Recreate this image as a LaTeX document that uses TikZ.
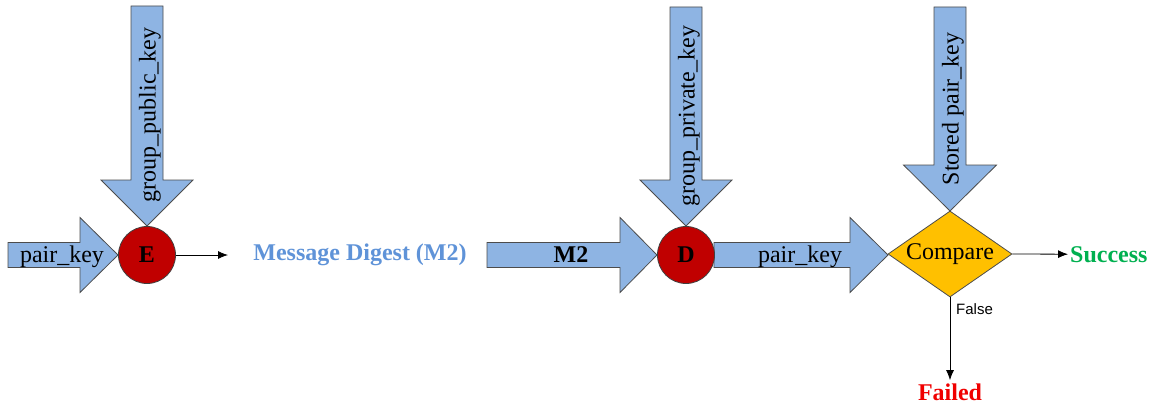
\documentclass[tikz,border=0pt]{standalone}
\usepackage{fontspec}
\setmainfont{Liberation Serif}
\newfontfamily\labelsans{Liberation Sans}
\usetikzlibrary{arrows.meta,shapes.geometric}

\definecolor{keyblue}{HTML}{8EB4E3}
\definecolor{opred}{HTML}{C00000}
\definecolor{cmpgold}{HTML}{FFC000}
\definecolor{digestblue}{HTML}{5F93D8}
\definecolor{okgreen}{HTML}{00B050}
\definecolor{failred}{HTML}{F00000}

% horizontal block arrow: start x, head x, tip x, centre y
\newcommand\hblock[4]{%
  \draw[blockarrow] (#1,#4-12.5) -- (#2,#4-12.5) -- (#2,#4-37.5) -- (#3,#4)
    -- (#2,#4+37.5) -- (#2,#4+12.5) -- (#1,#4+12.5) -- cycle;}
% vertical block arrow: centre x, top y, head y, tip y, shaft half width, head half width
\newcommand\vblock[6]{%
  \draw[blockarrow] (#1-#5,#2) -- (#1+#5,#2) -- (#1+#5,#3) -- (#1+#6,#3) -- (#1,#4)
    -- (#1-#6,#3) -- (#1-#5,#3) -- cycle;}

\begin{document}
\begin{tikzpicture}[x=1pt,y=-1pt,
  blockarrow/.style={draw=black!70, fill=keyblue, line width=0.8pt, line join=miter},
  txt/.style={font=\fontsize{24}{28}\selectfont, inner sep=0pt},
  btxt/.style={font=\fontsize{24}{28}\selectfont\bfseries, inner sep=0pt},
  op/.style={circle, draw=black!75, fill=opred, line width=0.8pt, minimum size=57pt, btxt},
  flow/.style={-{Latex[length=10pt,width=8pt]}, line width=0.8pt},
]
\useasboundingbox (0,0) rectangle (1156,404);

% key inputs as block arrows
\hblock{8}{80}{118}{255}
\vblock{147}{6}{180}{226}{16}{46}
\hblock{487}{620}{657}{255}
\vblock{686}{7}{180}{226}{16}{46}
\hblock{714}{850}{888}{255}
\vblock{950}{7}{165}{211}{16}{46.5}

% operations
\node[op] (E) at (147,255) {E};
\node[op] (D) at (686,255) {D};
\node[diamond, aspect=1.44, draw=black!70, fill=cmpgold, line width=0.8pt,
      minimum width=124pt, minimum height=86pt, txt] (cmp) at (950,254) {Compare};

% arrow labels
\node[txt, anchor=base] (pk1) at (62,262) {pair\_key};
\node[txt, rotate=90] (gpub) at (150,115) {group\_public\_key};
\node[btxt, anchor=base] (m2) at (571,262) {M2};
\node[txt, rotate=90] (gpriv) at (689,116) {group\_private\_key};
\node[txt, anchor=base] (pk2) at (800,262) {pair\_key};
\node[txt, rotate=90] (spk) at (953,109) {Stored pair\_key};

% results
\node[btxt, text=digestblue, anchor=base] (md) at (360,260) {Message Digest (M2)};
\node[btxt, text=okgreen, anchor=base west] (succ) at (1070,262) {Success};
\node[btxt, text=failred, anchor=base] (fail) at (950,400) {Failed};
\coordinate (mdin) at (228,255);

% connectors
\draw[flow] (E) -- (mdin);
\draw[flow, shorten >=2pt] (cmp.east) -- (succ.west);
\draw[flow, shorten >=3pt] (cmp.south) -- (fail.north);
\node[font=\labelsans\fontsize{15}{18}\selectfont, anchor=base west, inner sep=0pt] (flabel) at (956,314) {False};
\end{tikzpicture}
\end{document}
